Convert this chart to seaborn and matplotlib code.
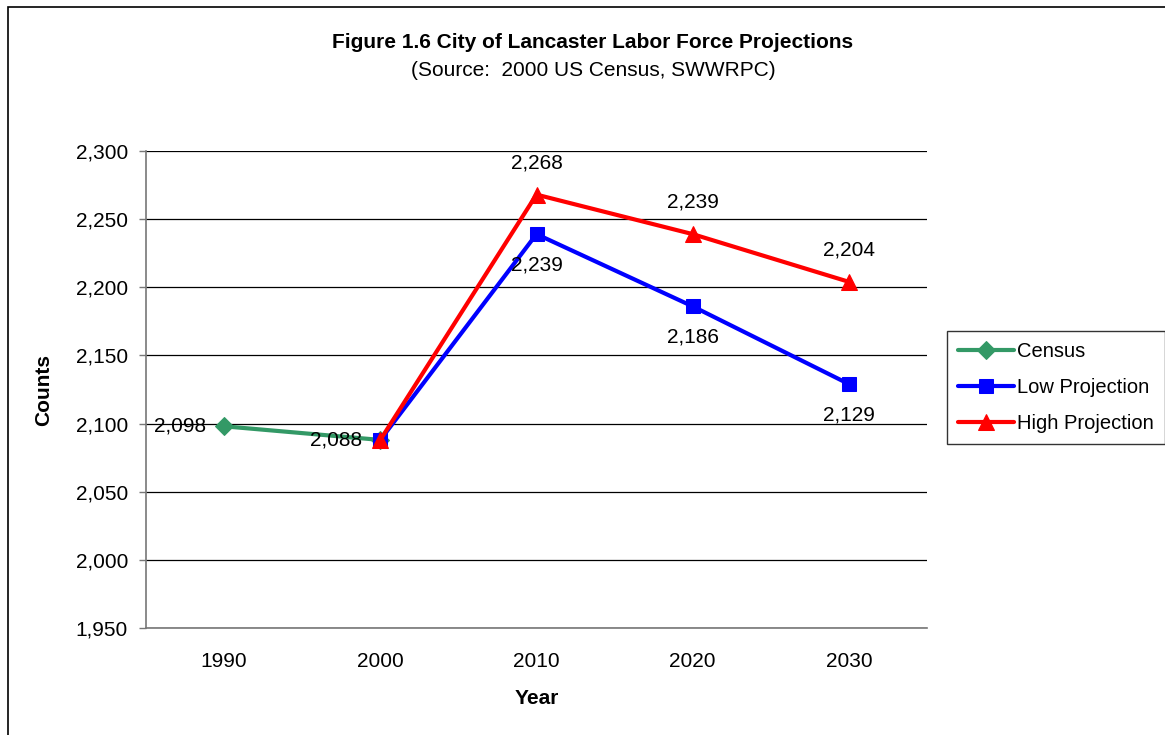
import matplotlib
matplotlib.use("Agg")
import matplotlib.pyplot as plt
import seaborn as sns
import pandas as pd
from matplotlib.patches import Rectangle
from matplotlib.ticker import FuncFormatter, FixedLocator

years = ["1990", "2000", "2010", "2020", "2030"]
census_years = ["1990", "2000"]
census_vals = [2098, 2088]
low_years = ["2000", "2010", "2020", "2030"]
low_vals = [2088, 2239, 2186, 2129]
high_years = ["2000", "2010", "2020", "2030"]
high_vals = [2088, 2268, 2239, 2204]

sns.set_theme(style="white")
plt.rcParams['font.family'] = ['Liberation Sans', 'DejaVu Sans']
plt.rcParams['text.color'] = 'black'
plt.rcParams['axes.labelcolor'] = 'black'
plt.rcParams['xtick.color'] = 'black'
plt.rcParams['ytick.color'] = 'black'

FS = 15

fig = plt.figure(figsize=(11.65, 7.35), dpi=100)
ax = fig.add_axes([146/1165, 1-628/735, (927-146)/1165, (628-151)/735])

pos = {y: i for i, y in enumerate(years)}
rows = []
for name, ys, vs in [("Census", census_years, census_vals),
                     ("Low Projection", low_years, low_vals),
                     ("High Projection", high_years, high_vals)]:
    for y, v in zip(ys, vs):
        rows.append({"series": name, "x": pos[y], "value": v})
df = pd.DataFrame(rows)

styles = {"Census": ("#339966", "D", 9),
          "Low Projection": ("#0000FF", "s", 10),
          "High Projection": ("#FF0000", "^", 11)}
for name in ["Census", "Low Projection", "High Projection"]:
    c, m, ms = styles[name]
    sns.lineplot(data=df[df.series == name], x="x", y="value", ax=ax,
                 color=c, marker=m, markersize=ms, linewidth=3,
                 markeredgecolor=c, label=name, sort=False, zorder=3)

ax.set_xlim(-0.5, 4.5)
ax.set_ylim(1950, 2300)
ax.yaxis.set_major_locator(FixedLocator(list(range(1950, 2301, 50))))
ax.yaxis.set_major_formatter(FuncFormatter(lambda v, p: f"{int(v):,}"))
ax.set_xticks(range(len(years)))
ax.set_xticklabels(years)
ax.set_xticks([i - 0.5 for i in range(len(years) + 1)], minor=True)
ax.tick_params(axis='x', which='major', length=0, pad=17, labelsize=FS, colors='black')
ax.tick_params(axis='x', which='minor', length=5, width=1, color='#777777', direction='out')
ax.tick_params(axis='y', length=5, width=1, color='#777777', direction='out', pad=8,
               labelsize=FS, labelcolor='black')
ax.tick_params(axis='y', left=True)
ax.grid(axis='y', color='black', linewidth=0.9)
ax.grid(axis='x', visible=False)
for s in ['top', 'right']:
    ax.spines[s].set_visible(False)
for s in ['left', 'bottom']:
    ax.spines[s].set_color('#777777')
    ax.spines[s].set_linewidth(1.2)

ax.set_xlabel("Year", fontsize=FS, fontweight='bold', labelpad=13)
ax.set_ylabel("Counts", fontsize=FS, fontweight='bold', labelpad=16)

# Census labels (left)
for y, v in zip(census_years, census_vals):
    ax.annotate(f"{v:,}", (pos[y], v), xytext=(-13, 0),
                textcoords='offset points', ha='right', va='center', fontsize=FS)
# Low labels (below), skip 2000
for y, v in zip(low_years[1:], low_vals[1:]):
    ax.annotate(f"{v:,}", (pos[y], v), xytext=(0, -22), textcoords='offset points',
                ha='center', va='center', fontsize=FS)
# High labels (above), skip 2000
for y, v in zip(high_years[1:], high_vals[1:]):
    ax.annotate(f"{v:,}", (pos[y], v), xytext=(0, 23), textcoords='offset points',
                ha='center', va='center', fontsize=FS)

leg = ax.legend(loc='upper left', bbox_to_anchor=(947/1165, 1-331/735),
                bbox_transform=fig.transFigure, frameon=True, fancybox=False,
                fontsize=14.5, handlelength=2.8, handletextpad=0.15,
                labelspacing=0.85, borderpad=0.55, borderaxespad=0)
leg.get_frame().set_edgecolor('black')
leg.get_frame().set_linewidth(1)
for t in leg.get_texts():
    t.set_color('black')

fig.text(593/1165, 1-43/735, "Figure 1.6 City of Lancaster Labor Force Projections",
         ha='center', va='center', fontsize=FS, fontweight='bold')
fig.text(593/1165, 1-71/735, "(Source:  2000 US Census, SWWRPC)",
         ha='center', va='center', fontsize=FS)

fig.patches.append(Rectangle((8/1165, -0.1), 1.2, 1.1 - 7/735,
                             transform=fig.transFigure, fill=False,
                             edgecolor='black', linewidth=1.2))

fig.savefig("out.png", dpi=100)
